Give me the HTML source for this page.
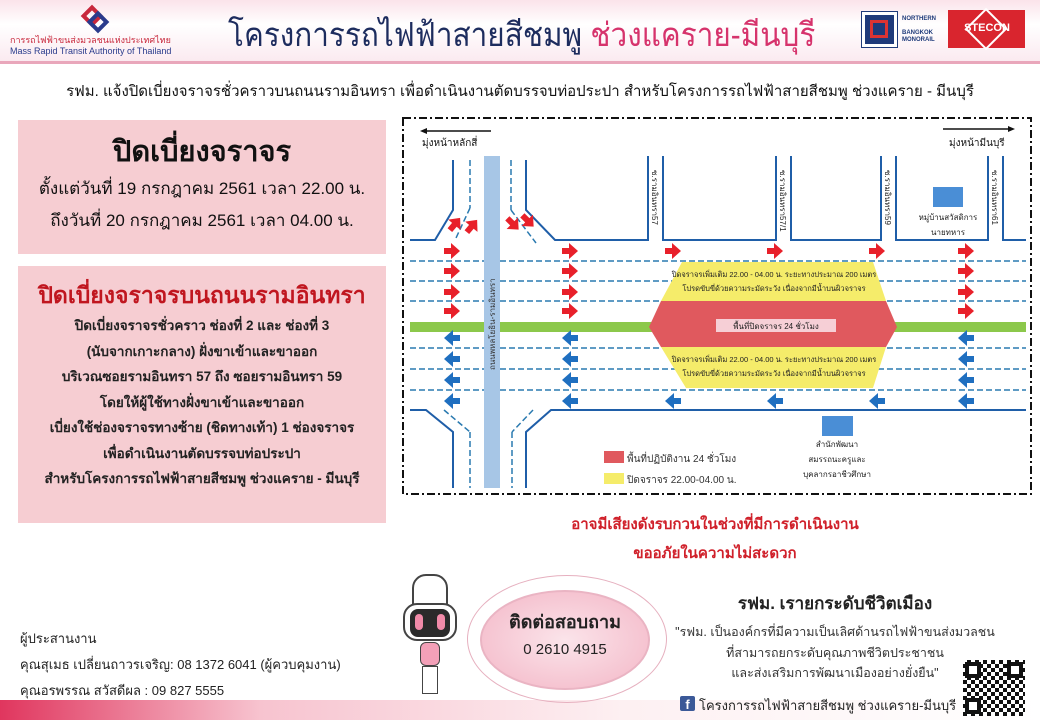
<!DOCTYPE html>
<html><head><meta charset="utf-8"><style>
*{margin:0;padding:0;box-sizing:border-box}
body{width:1040px;height:720px;position:relative;overflow:hidden;background:#fff;font-family:"Liberation Sans","DejaVu Sans",sans-serif;color:#222}
.a{position:absolute;white-space:nowrap}
.c{text-align:center}
</style></head><body>
<div class="a" style="left:0;top:0;width:1040px;height:64px;background:linear-gradient(#fbe3ea,#fff 40%,#fbeaf0);border-bottom:3px solid #e9a7bb"></div>
<div class="a" style="left:84px;top:8px;width:16px;height:16px;transform:rotate(45deg);border:4px solid #c8283c;"></div>
<div class="a" style="left:90px;top:14px;width:16px;height:16px;transform:rotate(45deg);border:4px solid #2a3b8c;"></div>
<div class="a" style="left:10px;top:33px;font-size:9px;color:#c8283c">การรถไฟฟ้าขนส่งมวลชนแห่งประเทศไทย</div>
<div class="a" style="left:10px;top:46px;font-size:9px;color:#2a3b8c">Mass Rapid Transit Authority of Thailand</div>
<div class="a" style="left:228px;top:8px;font-size:33px;color:#1d2c5e;transform:scaleX(0.9);transform-origin:0 0">โครงการรถไฟฟ้าสายสีชมพู <span style="color:#d6336c">ช่วงแคราย-มีนบุรี</span></div>
<div class="a" style="left:862px;top:12px;width:35px;height:35px;background:#1f3a7a;border:3px solid #fff;outline:1px solid #1f3a7a"></div>
<div class="a" style="left:870px;top:20px;width:18px;height:18px;border:3px solid #d33"></div>
<div class="a" style="left:902px;top:16px;font-size:6px;line-height:7px;color:#1f3a7a;font-weight:bold">NORTHERN<br><br>BANGKOK<br>MONORAIL</div>
<div class="a" style="left:948px;top:10px;width:77px;height:38px;background:#d9252e"></div>
<div class="a" style="left:971px;top:14px;width:30px;height:30px;border:2px solid #fff;transform:rotate(45deg)"></div>
<div class="a" style="left:956px;top:22px;width:62px;font-size:11px;font-weight:bold;color:#fff;text-align:center">STECON</div>
<div class="a c" style="left:0;top:79px;width:1040px;font-size:15px;color:#111">รฟม. แจ้งปิดเบี่ยงจราจรชั่วคราวบนถนนรามอินทรา เพื่อดำเนินงานตัดบรรจบท่อประปา สำหรับโครงการรถไฟฟ้าสายสีชมพู ช่วงแคราย - มีนบุรี</div>

<div class="a" style="left:18px;top:120px;width:368px;height:134px;background:#f6cdd2"></div>
<div class="a c" style="left:18px;top:128px;width:368px;font-size:29px;font-weight:bold;color:#111">ปิดเบี่ยงจราจร</div>
<div class="a c" style="left:18px;top:175px;width:368px;font-size:17px;color:#111">ตั้งแต่วันที่ 19 กรกฎาคม 2561 เวลา 22.00 น.</div>
<div class="a c" style="left:18px;top:207px;width:368px;font-size:17px;color:#111">ถึงวันที่ 20 กรกฎาคม 2561 เวลา 04.00 น.</div>

<div class="a" style="left:18px;top:266px;width:368px;height:257px;background:#f6cdd2"></div>
<div class="a c" style="left:18px;top:278px;width:368px;font-size:23px;font-weight:bold;color:#c0161f">ปิดเบี่ยงจราจรบนถนนรามอินทรา</div>
<div class="a c" style="left:18px;top:313px;width:368px;font-size:13.5px;font-weight:bold;line-height:25.5px;color:#222">ปิดเบี่ยงจราจรชั่วคราว ช่องที่ 2 และ ช่องที่ 3<br>(นับจากเกาะกลาง) ฝั่งขาเข้าและขาออก<br>บริเวณซอยรามอินทรา 57 ถึง ซอยรามอินทรา 59<br>โดยให้ผู้ใช้ทางฝั่งขาเข้าและขาออก<br>เบี่ยงใช้ช่องจราจรทางซ้าย (ชิดทางเท้า) 1 ช่องจราจร<br>เพื่อดำเนินงานตัดบรรจบท่อประปา<br>สำหรับโครงการรถไฟฟ้าสายสีชมพู ช่วงแคราย - มีนบุรี</div>

<svg class="a" style="left:0;top:0" width="1040" height="720" viewBox="0 0 1040 720">
<defs>
<path id="ra" d="M-8,-3 h7 v-5 l9,8 -9,8 v-5 h-7z" fill="#e8202a"/>
<path id="la" d="M8,-3 h-7 v-5 l-9,8 9,8 v-5 h7z" fill="#1f6fc0"/>
</defs>
<rect x="403" y="118" width="628" height="376" fill="none" stroke="#111" stroke-width="2" stroke-dasharray="8,3,2,3"/>
<line x1="424" y1="131" x2="491" y2="131" stroke="#111" stroke-width="1.5"/><path d="M420,131 l7,-3 v6z" fill="#111"/>
<line x1="943" y1="129" x2="1010" y2="129" stroke="#111" stroke-width="1.5"/><path d="M1015,129 l-7,-3 v6z" fill="#111"/>
<text x="422" y="146" font-size="10" fill="#111">มุ่งหน้าหลักสี่</text>
<text x="949" y="146" font-size="10" fill="#111">มุ่งหน้ามีนบุรี</text>
<g stroke="#2a7ab0" stroke-width="1.5" stroke-dasharray="6,3">
<line x1="410" y1="261" x2="1026" y2="261"/><line x1="410" y1="281" x2="1026" y2="281"/><line x1="410" y1="301" x2="1026" y2="301"/>
<line x1="410" y1="348" x2="1026" y2="348"/><line x1="410" y1="369" x2="1026" y2="369"/><line x1="410" y1="390" x2="1026" y2="390"/>
<line x1="470" y1="160" x2="470" y2="208"/><line x1="470" y1="208" x2="456" y2="238"/>
<line x1="511" y1="160" x2="511" y2="210"/><line x1="511" y1="210" x2="536" y2="243"/>
<line x1="444" y1="410" x2="470" y2="432"/><line x1="470" y1="432" x2="470" y2="488"/>
<line x1="533" y1="410" x2="512" y2="432"/><line x1="512" y1="432" x2="512" y2="488"/>
</g>
<rect x="410" y="322" width="616" height="10" fill="#8cc84b"/>
<g fill="none" stroke="#1f5ea8" stroke-width="2">
<path d="M410,240 H435 L453,210 V160"/>
<path d="M526,160 V210 L555,240 H648 V156"/>
<path d="M663,156 V240 H776 V156"/><path d="M791,156 V240 H881 V156"/><path d="M896,156 V240 H988 V156"/><path d="M1003,156 V240 H1026"/>
<path d="M410,410 H426 L453,432 V488"/><path d="M526,488 V432 L551,410 H1026"/>
</g>
<rect x="484" y="156" width="16" height="332" fill="#a7c6e6"/>
<text transform="translate(495,370) rotate(-90)" font-size="8" fill="#333">ถนนพหลโยธิน-รามอินทรา</text>
<g font-size="8" fill="#222">
<text transform="translate(652,170) rotate(90)">ซ.รามอินทรา57</text>
<text transform="translate(780,170) rotate(90)">ซ.รามอินทรา57/1</text>
<text transform="translate(885,170) rotate(90)">ซ.รามอินทรา59</text>
<text transform="translate(992,170) rotate(90)">ซ.รามอินทรา61</text>
</g>
<polygon points="682,262 873,262 886,301 661,301" fill="#f5ec6a"/>
<polygon points="661,301 886,301 897,327 886,347 661,347 649,327" fill="#e0595e"/>
<polygon points="661,347 886,347 873,388 686,388" fill="#f5ec6a"/>
<rect x="716" y="319" width="120" height="13" fill="#f6cfd6"/>
<text x="776" y="329" font-size="8" text-anchor="middle" fill="#222">พื้นที่ปิดจราจร 24 ชั่วโมง</text>
<g font-size="7.5" text-anchor="middle" fill="#222">
<text x="774" y="277">ปิดจราจรเพิ่มเติม 22.00 - 04.00 น. ระยะทางประมาณ 200 เมตร</text>
<text x="774" y="291">โปรดขับขี่ด้วยความระมัดระวัง เนื่องจากมีน้ำบนผิวจราจร</text>
<text x="774" y="362">ปิดจราจรเพิ่มเติม 22.00 - 04.00 น. ระยะทางประมาณ 200 เมตร</text>
<text x="774" y="376">โปรดขับขี่ด้วยความระมัดระวัง เนื่องจากมีน้ำบนผิวจราจร</text>
</g>
<g>
<use href="#ra" x="452" y="251"/><use href="#ra" x="570" y="251"/><use href="#ra" x="673" y="251"/><use href="#ra" x="775" y="251"/><use href="#ra" x="877" y="251"/><use href="#ra" x="966" y="251"/>
<use href="#ra" x="452" y="271"/><use href="#ra" x="570" y="271"/><use href="#ra" x="966" y="271"/>
<use href="#ra" x="452" y="292"/><use href="#ra" x="570" y="292"/><use href="#ra" x="966" y="292"/>
<use href="#ra" x="452" y="311"/><use href="#ra" x="570" y="311"/><use href="#ra" x="966" y="311"/>
<use href="#la" x="452" y="338"/><use href="#la" x="570" y="338"/><use href="#la" x="966" y="338"/>
<use href="#la" x="452" y="359"/><use href="#la" x="570" y="359"/><use href="#la" x="966" y="359"/>
<use href="#la" x="452" y="380"/><use href="#la" x="570" y="380"/><use href="#la" x="966" y="380"/>
<use href="#la" x="452" y="401"/><use href="#la" x="570" y="401"/><use href="#la" x="673" y="401"/><use href="#la" x="775" y="401"/><use href="#la" x="877" y="401"/><use href="#la" x="966" y="401"/>
<use href="#ra" transform="translate(455,224) rotate(-50)"/><use href="#ra" transform="translate(472,226) rotate(-50)"/>
<use href="#ra" transform="translate(513,224) rotate(45)"/><use href="#ra" transform="translate(528,221) rotate(45)"/>
</g>
<rect x="933" y="187" width="30" height="20" fill="#4a8ed6"/>
<text x="948" y="220" font-size="8" text-anchor="middle" fill="#222">หมู่บ้านสวัสดิการ</text>
<text x="948" y="235" font-size="8" text-anchor="middle" fill="#222">นายทหาร</text>
<rect x="822" y="416" width="31" height="20" fill="#4a8ed6"/>
<text x="837" y="447" font-size="8" text-anchor="middle" fill="#222">สำนักพัฒนา</text>
<text x="837" y="462" font-size="8" text-anchor="middle" fill="#222">สมรรถนะครูและ</text>
<text x="837" y="477" font-size="8" text-anchor="middle" fill="#222">บุคลากรอาชีวศึกษา</text>
<rect x="604" y="451" width="20" height="12" fill="#e0595e"/>
<rect x="604" y="473" width="20" height="11" fill="#f5ec6a"/>
<text x="627" y="462" font-size="10" fill="#333">พื้นที่ปฏิบัติงาน 24 ชั่วโมง</text>
<text x="627" y="483" font-size="10" fill="#333">ปิดจราจร 22.00-04.00 น.</text>
</svg>

<div class="a c" style="left:500px;top:510px;width:430px;font-size:15px;font-weight:bold;color:#d0202a;line-height:29px">อาจมีเสียงดังรบกวนในช่วงที่มีการดำเนินงาน<br>ขออภัยในความไม่สะดวก</div>

<div class="a" style="left:0;top:700px;width:1040px;height:20px;background:linear-gradient(90deg,#e0365e,#f7c3cf 25%,#fdf0f2 60%,#fff)"></div>
<div class="a" style="left:20px;top:628px;font-size:13px;color:#222">ผู้ประสานงาน</div>
<div class="a" style="left:20px;top:654px;font-size:13px;color:#222">คุณสุเมธ เปลี่ยนถาวรเจริญ:  08 1372 6041 (ผู้ควบคุมงาน)</div>
<div class="a" style="left:20px;top:680px;font-size:13px;color:#222">คุณอรพรรณ สวัสดีผล  :  09 827 5555</div>
<div class="a" style="left:412px;top:574px;width:36px;height:40px;border:2px solid #444;border-radius:14px 14px 4px 4px;background:#fff"></div>
<div class="a" style="left:403px;top:603px;width:54px;height:38px;border-radius:14px;background:#fff;border:2px solid #444"></div>
<div class="a" style="left:410px;top:609px;width:40px;height:28px;border-radius:8px;background:#2a2a2a"></div>
<div class="a" style="left:415px;top:614px;width:8px;height:16px;border-radius:4px;background:#f08aa8"></div>
<div class="a" style="left:437px;top:614px;width:8px;height:16px;border-radius:4px;background:#f08aa8"></div>
<div class="a" style="left:420px;top:642px;width:20px;height:24px;background:#f3a0b8;border:1px solid #444;border-radius:6px"></div>
<div class="a" style="left:422px;top:666px;width:16px;height:28px;background:#fff;border:1px solid #444"></div>
<div class="a" style="left:467px;top:575px;width:200px;height:128px;border-radius:50%;border:1.5px solid #e6b0bf"></div>
<div class="a" style="left:480px;top:590px;width:170px;height:100px;border-radius:50%;background:radial-gradient(ellipse at 50% 50%,#fbe4ea,#f3b6c6);border:2px solid #eab4c3"></div>
<div class="a c" style="left:470px;top:607px;width:190px;font-size:18px;font-weight:bold;color:#222">ติดต่อสอบถาม</div>
<div class="a c" style="left:470px;top:641px;width:190px;font-size:15px;color:#222">0 2610  4915</div>
<div class="a c" style="left:670px;top:590px;width:330px;font-size:17px;font-weight:bold;color:#222">รฟม. เรายกระดับชีวิตเมือง</div>
<div class="a c" style="left:665px;top:622px;width:340px;font-size:12.5px;color:#333;line-height:20.5px">"รฟม. เป็นองค์กรที่มีความเป็นเลิศด้านรถไฟฟ้าขนส่งมวลชน<br>ที่สามารถยกระดับคุณภาพชีวิตประชาชน<br>และส่งเสริมการพัฒนาเมืองอย่างยั่งยืน"</div>
<div class="a" style="left:680px;top:696px;width:15px;height:15px;background:#3b5998;border-radius:2px;color:#fff;font-size:13px;font-weight:bold;text-align:center;line-height:17px">f</div>
<div class="a" style="left:699px;top:695px;font-size:13px;color:#222">โครงการรถไฟฟ้าสายสีชมพู ช่วงแคราย-มีนบุรี</div>
<div class="a" style="left:963px;top:660px;width:62px;height:56px;background:repeating-conic-gradient(#111 0 25%,#fff 0 50%) 0 0/8px 8px"></div>
<div class="a" style="left:965px;top:662px;width:16px;height:16px;border:4px solid #111;background:#fff"></div>
<div class="a" style="left:1007px;top:662px;width:16px;height:16px;border:4px solid #111;background:#fff"></div>
<div class="a" style="left:965px;top:698px;width:16px;height:16px;border:4px solid #111;background:#fff"></div>
</body></html>
